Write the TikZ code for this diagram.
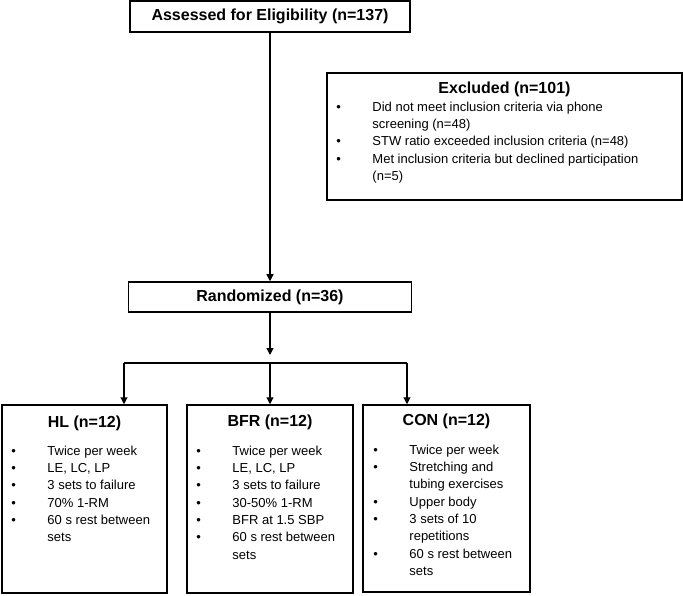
\documentclass[tikz,border=0pt]{standalone}
\usepackage{fontspec}
\setmainfont{Liberation Sans}
\usetikzlibrary{arrows.meta,positioning}
\begin{document}
\begin{tikzpicture}[
		x=1pt, y=-1pt,
		box/.style={draw, line width=1.5pt, inner sep=0pt},
		head/.style={font=\fontsize{16}{19}\selectfont\bfseries, inner sep=0pt},
		lst/.style={font=\fontsize{13}{17.3}\selectfont, inner sep=0pt, anchor=base west},
		conn/.style={line width=1.2pt},
		arr/.style={line width=1.2pt, -{Triangle[length=7pt,width=7pt]}}
	]
		\useasboundingbox (0,0) rectangle (683,596);
		\node[box, head, minimum width=280pt, minimum height=31pt] (elig) at (270,16.5) {Assessed for Eligibility (n=137)};
		\node[box, minimum width=355pt, minimum height=127pt] (excl) at (504.5,136.5) {};
		\node[head, anchor=base] (excltitle) at ([yshift=-21pt]excl.north) {Excluded (n=101)};
		\node[lst] (excllist) at ([xshift=10pt,yshift=-39pt]excl.north west) {\begin{tabular}[t]{@{}p{36pt}@{}l@{}}
			\textbullet & Did not meet inclusion criteria via phone\\
			& screening (n=48)\\
			\textbullet & STW ratio exceeded inclusion criteria (n=48)\\
			\textbullet & Met inclusion criteria but declined participation\\
			& (n=5)
		\end{tabular}};
		\node[box, head, minimum width=283pt, minimum height=30pt] (rand) at (270,297) {Randomized (n=36)};
		\node[box, minimum width=165pt, minimum height=188pt] (hl) at (84.5,499) {};
		\node[box, minimum width=166pt, minimum height=188pt] (bfr) at (270,499) {};
		\node[box, minimum width=167pt, minimum height=187pt] (con) at (446.5,498.5) {};
		\node[head, anchor=base] (hltitle) at ([yshift=-23pt]hl.north) {HL (n=12)};
		\node[head, anchor=base] (bfrtitle) at ([yshift=-22pt]bfr.north) {BFR (n=12)};
		\node[head, anchor=base] (contitle) at ([yshift=-21pt]con.north) {CON (n=12)};
		\node[lst] (hllist) at ([xshift=10pt,yshift=-51pt]hl.north west) {\begin{tabular}[t]{@{}p{36pt}@{}l@{}}
			\textbullet & Twice per week\\
			\textbullet & LE, LC, LP\\
			\textbullet & 3 sets to failure\\
			\textbullet & 70\% 1-RM\\
			\textbullet & 60 s rest between\\
			& sets
		\end{tabular}};
		\node[lst] (bfrlist) at ([xshift=10pt,yshift=-51pt]bfr.north west) {\begin{tabular}[t]{@{}p{36pt}@{}l@{}}
			\textbullet & Twice per week\\
			\textbullet & LE, LC, LP\\
			\textbullet & 3 sets to failure\\
			\textbullet & 30-50\% 1-RM\\
			\textbullet & BFR at 1.5 SBP\\
			\textbullet & 60 s rest between\\
			& sets
		\end{tabular}};
		\node[lst] (conlist) at ([xshift=11pt,yshift=-50pt]con.north west) {\begin{tabular}[t]{@{}p{36pt}@{}l@{}}
			\textbullet & Twice per week\\
			\textbullet & Stretching and\\
			& tubing exercises\\
			\textbullet & Upper body\\
			\textbullet & 3 sets of 10\\
			& repetitions\\
			\textbullet & 60 s rest between\\
			& sets
		\end{tabular}};
		\coordinate (randend) at (270,355);
		\coordinate (splitl) at (124,363);
		\coordinate (splitm) at (270,363);
		\coordinate (splitr) at (407,363);
		\draw[arr] (elig) -- (rand);
		\draw[arr] (rand) -- (randend);
		\draw[conn] (splitl) -- (splitr);
		\draw[arr] (splitl) -- (splitl |- hl.north);
		\draw[arr] (splitm) -- (bfr);
		\draw[arr] (splitr) -- (splitr |- con.north);
	\end{tikzpicture}
\end{document}
